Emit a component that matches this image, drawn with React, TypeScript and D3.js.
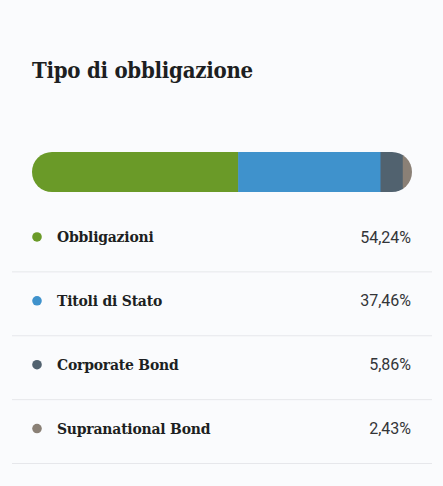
import { useRef, useEffect } from 'react';
import * as d3 from 'd3';

const categories = ['Obbligazioni', 'Titoli di Stato', 'Corporate Bond', 'Supranational Bond'];
const shares = [54.24, 37.46, 5.86, 2.43];
const colors = ['#6a9a28', '#3f92cc', '#51626f', '#8a8076'];
const valueLabels = ['54,24%', '37,46%', '5,86%', '2,43%'];

const W = 443;
const H = 486;

export default function App() {
  const svgRef = useRef<SVGSVGElement>(null);

  useEffect(() => {
    if (!svgRef.current) return;
    const svg = d3.select(svgRef.current);
    svg.selectAll('*').remove();

    svg.append('rect').attr('width', W).attr('height', H).attr('fill', '#fafbfd');

    const slab = "'DejaVu Serif Condensed', 'DejaVu Serif', serif";

    // Title
    svg.append('text')
      .attr('x', 32)
      .attr('y', 78)
      .attr('font-family', slab)
      .attr('font-weight', 700)
      .attr('font-size', '22px')
      .attr('letter-spacing', '-0.25px')
      .attr('fill', '#1d1f22')
      .text('Tipo di obbligazione');

    // Stacked bar
    const barTop = 152;
    const barH = 40;
    const x = d3.scaleLinear().domain([0, d3.sum(shares)]).range([32, 412]);
    const starts = d3.cumsum([0, ...shares.slice(0, -1)]);

    svg.append('clipPath')
      .attr('id', 'barClip')
      .append('rect')
      .attr('x', x(0))
      .attr('y', barTop)
      .attr('width', x(d3.sum(shares)) - x(0))
      .attr('height', barH)
      .attr('rx', barH / 2);

    const bar = svg.append('g').attr('clip-path', 'url(#barClip)');
    shares.forEach((v, i) => {
      bar.append('rect')
        .attr('x', x(starts[i]))
        .attr('y', barTop)
        .attr('width', x(starts[i] + v) - x(starts[i]) + (i < shares.length - 1 ? 0.5 : 0))
        .attr('height', barH)
        .attr('fill', colors[i]);
    });

    // Legend rows
    const y = d3.scaleBand<number>().domain(d3.range(categories.length)).range([208, 463.5]);
    categories.forEach((cat, i) => {
      const top = y(i) ?? 0;
      const cy = top + y.bandwidth() / 2 - 3;
      svg.append('circle')
        .attr('cx', 37)
        .attr('cy', cy)
        .attr('r', 4.8)
        .attr('fill', colors[i]);
      svg.append('text')
        .attr('x', 57)
        .attr('y', cy)
        .attr('dy', '0.35em')
        .attr('font-family', slab)
        .attr('font-weight', 700)
        .attr('font-size', '15.5px')
        .attr('letter-spacing', '-0.2px')
        .attr('fill', '#1d1f22')
        .text(cat);
      svg.append('text')
        .attr('x', 411)
        .attr('y', cy)
        .attr('dy', '0.35em')
        .attr('text-anchor', 'end')
        .attr('font-family', 'Roboto, sans-serif')
        .attr('font-size', '16px')
        .attr('fill', '#333538')
        .text(valueLabels[i]);
      svg.append('line')
        .attr('x1', 12)
        .attr('x2', 432)
        .attr('y1', top + y.bandwidth())
        .attr('y2', top + y.bandwidth())
        .attr('stroke', '#e6e7eb')
        .attr('stroke-width', 1);
    });
  }, []);

  return (
    <svg
      ref={svgRef}
      width={W}
      height={H}
      style={{ position: 'fixed', left: 0, top: 0, display: 'block' }}
    />
  );
}
